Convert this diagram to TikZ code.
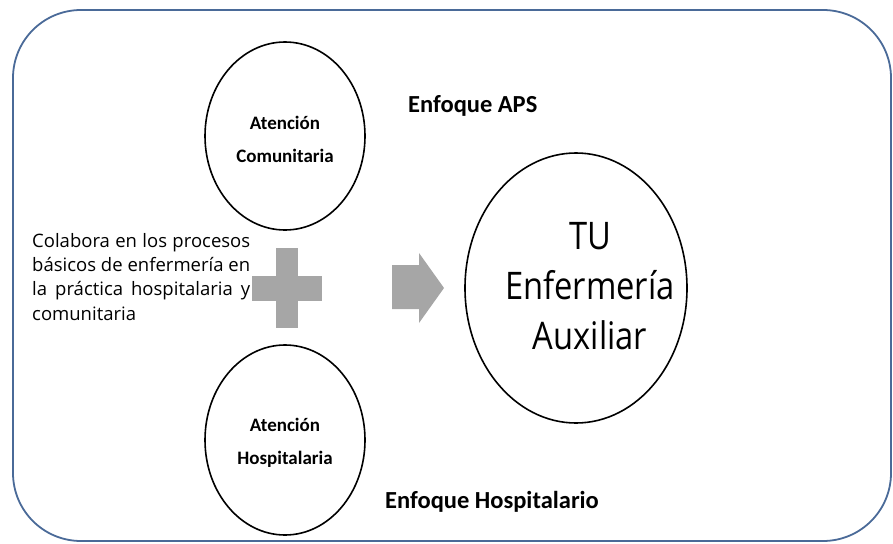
\documentclass[tikz,border=0pt]{standalone}
\usepackage{fontspec}
\setmainfont{Open Sans}
\newfontfamily\calib{Carlito}
\newfontfamily\bigf[FakeStretch=0.86]{Open Sans}
\definecolor{framec}{HTML}{4A6A98}
\definecolor{shapec}{HTML}{A6A6A6}
\begin{document}
\begin{tikzpicture}[x=1pt,y=-1pt,
  small/.style={font=\calib\fontsize{19}{33}\selectfont\bfseries,align=center,inner sep=0pt},
  lbl/.style={font=\calib\fontsize{24.5}{28}\selectfont\bfseries,anchor=base west,inner sep=0pt},
  big/.style={font=\bigf\fontsize{38}{50}\selectfont,align=center,inner sep=0pt}]
\useasboundingbox (0,0) rectangle (893,543);
\draw[framec,line width=1.8pt,rounded corners=68pt] (13,10) rectangle (891,541);
% circles
\draw[line width=1.6pt] (285,136) ellipse [x radius=80, y radius=94];
\node[small] (ac) at (285,139) {Atención\\Comunitaria};
\draw[line width=1.6pt] (285,440) ellipse [x radius=80, y radius=95];
\node[small] (ah) at (285,443) {Atención\\Hospitalaria};
\draw[line width=1.6pt] (576,288) ellipse [x radius=111, y radius=135];
\node[big] (tu) at (590,286) {TU\\Enfermería\\Auxiliar};
% plus
\fill[shapec] (276,248) rectangle (298,328);
\fill[shapec] (252,276) rectangle (322,301);
% arrow
\fill[shapec] (392,265) -- (419,265) -- (419,253) -- (444,288) -- (419,323) -- (419,309) -- (392,309) -- cycle;
% labels
\node[lbl] (aps) at (408,112) {Enfoque APS};
\node[lbl] (hosp) at (385,508) {Enfoque Hospitalario};
\node[anchor=base west,align=left,font=\fontsize{18.5}{24.3}\selectfont,inner sep=0pt] (txt) at (32,320)
 {\makebox[218pt][s]{Colabora en los procesos}\\\makebox[218pt][s]{básicos de enfermería en}\\\makebox[218pt][s]{la práctica hospitalaria y}\\comunitaria};
\end{tikzpicture}
\end{document}
